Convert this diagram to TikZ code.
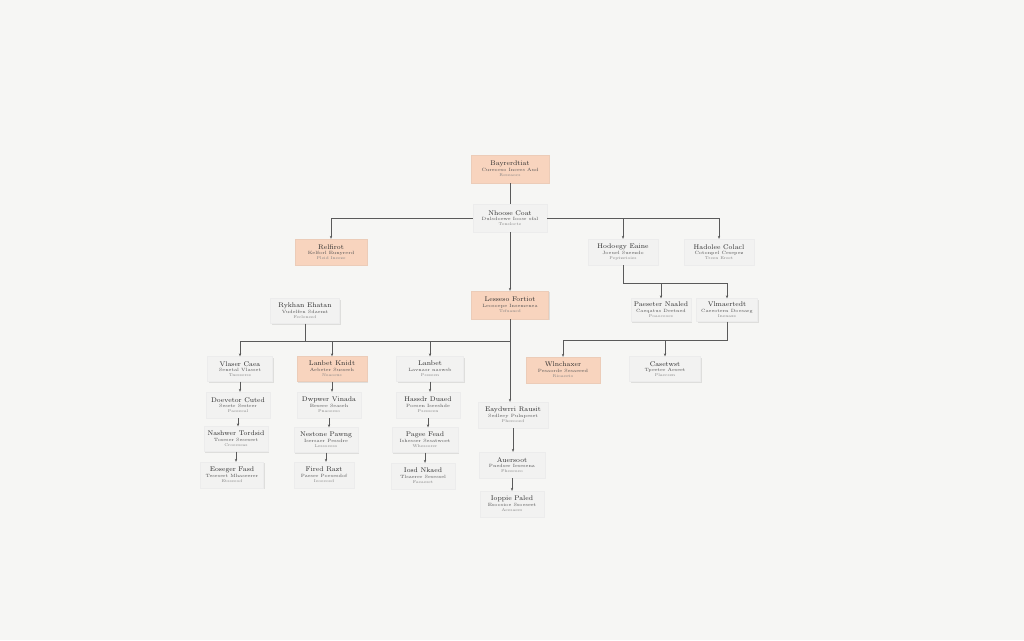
\documentclass[tikz,border=0pt]{standalone}
\usetikzlibrary{shadows,arrows.meta}
\definecolor{bg}{HTML}{F6F6F4}
\definecolor{peach}{HTML}{F8D4BE}
\definecolor{boxg}{HTML}{F2F2F1}
\definecolor{ln}{HTML}{5A5A5A}
\definecolor{ta}{HTML}{2A2A2A}
\definecolor{tb}{HTML}{505050}
\definecolor{tc}{HTML}{808080}
\newcommand{\boxtext}[3]{{\fontsize{6.8}{6.5}\selectfont\color{ta}#1}\\[0.3pt]{\color{tb}#2}\\{\fontsize{4}{5}\selectfont\color{tc}#3}}
\tikzset{
  bx/.style={rectangle, minimum width=66pt, minimum height=25pt, inner sep=1pt, align=center, font=\fontsize{4.6}{5.2}\selectfont, fill=boxg, draw=white!85!gray, line width=0.3pt, drop shadow={opacity=0.2, shadow xshift=1pt, shadow yshift=-1.3pt}},
  pbx/.style={bx, fill=peach, draw=peach!90!gray},
  ln/.style={draw=ln, line width=0.8pt},
  conn/.style={ln, -{Stealth[length=3pt,width=2.4pt]}}
}
\begin{document}
\begin{tikzpicture}[x=1pt,y=-1pt]
\fill[bg] (0,0) rectangle (1024,640);
\useasboundingbox (0,0) rectangle (1024,640);

\node[pbx, minimum width=78pt, minimum height=28pt] (n1) at (510,169) {\boxtext{Bayrerdtiat}{Cureoeso Incers Aud}{Reseaocs}};
\node[bx, minimum width=74pt, minimum height=28pt] (n2) at (510,218) {\boxtext{Nhoose Coat}{Dulsdoewe Ioosr sfal}{Tenslocte}};
\node[pbx, minimum width=72pt, minimum height=26pt] (n3) at (331,252) {\boxtext{Relfirot}{Kelforl Eunyrerd}{Pleid Ineeze}};
\node[bx, minimum width=70pt, minimum height=26pt] (n4) at (623,252) {\boxtext{Hodoegy Eaine}{Joeuel Sueezdo}{Peptzetoies}};
\node[bx, minimum width=70pt, minimum height=26pt] (n5) at (719,252) {\boxtext{Hadolee Colacl}{Cotonpel Cesepez}{Treen Ereet}};
\node[bx, minimum width=69pt] (n6) at (305,311) {\boxtext{Rykhan Ehatan}{Vudelfen Sdaemt}{Fecleneed}};
\node[pbx, minimum width=77pt, minimum height=28pt] (n7) at (510,305) {\boxtext{Lesseso Fortiot}{Leosoepe Insemenea}{Tefuaned}};
\node[bx, minimum width=60pt, minimum height=23pt] (n8) at (661,310) {\boxtext{Paeseter Naaled}{Caeqatus Deetned}{Poaoceoes}};
\node[bx, minimum width=61pt, minimum height=23pt] (n9) at (727,310) {\boxtext{Vlmaertedt}{Caeeotern Doesarg}{Inenaxs}};

\node[bx, minimum width=65pt] (n10) at (240,369) {\boxtext{Vlaser Caea}{Senetal Vlasset}{Tnesserss}};
\node[pbx, minimum width=70pt] (n11) at (332,369) {\boxtext{Lanbet Knidt}{Aebeter Susserh}{Noaoeus}};
\node[bx, minimum width=67pt] (n12) at (430,369) {\boxtext{Lanbet}{Lavnasr naswsb}{Pssseen}};
\node[pbx, minimum width=74pt, minimum height=26pt] (n13) at (563,370) {\boxtext{Wlnchaxer}{Pesaorde Sesaeeed}{Rioaeeto}};
\node[bx, minimum width=71pt] (n14) at (665,369) {\boxtext{Casetwst}{Tpeeter Aeseet}{Plaecsen}};

\node[bx, minimum width=64pt, minimum height=26pt] (n15) at (238,405) {\boxtext{Doevetor Cuted}{Sesetr Sestrer}{Paoseeal}};
\node[bx, minimum width=64pt, minimum height=26pt] (n16) at (329,405) {\boxtext{Dwpwer Vinada}{Beseee Seaseh}{Pnaoeeso}};
\node[bx, minimum width=64pt, minimum height=26pt] (n17) at (428,405) {\boxtext{Hassdr Duaed}{Poesen Iseeshde}{Psesseen}};
\node[bx, minimum width=70pt, minimum height=26pt] (n18) at (513,415) {\boxtext{Eaydwrri Rausit}{Sedleey Pulnpeset}{Pheeooed}};

\node[bx, minimum width=64pt] (n19) at (236,439) {\boxtext{Nashwer Tordsid}{Toseser Sesesert}{Croeeseas}};
\node[bx, minimum width=64pt] (n20) at (326,440) {\boxtext{Nestone Pawng}{Isersaer Pessdre}{Lessoeeso}};
\node[bx, minimum width=66pt] (n21) at (425,440) {\boxtext{Pagee Fead}{Ishesser Sesatwoet}{Whessorer}};
\node[bx, minimum width=66pt, minimum height=26pt] (n22) at (512,465) {\boxtext{Auersoot}{Pnedser Iesesena}{Fheeeoeo}};

\node[bx, minimum width=63pt, minimum height=26pt] (n23) at (232,475) {\boxtext{Eoseger Fasd}{Tesesert Mhaseerer}{Etsseeod}};
\node[bx, minimum width=60pt, minimum height=26pt] (n24) at (324,475) {\boxtext{Fired Razt}{Paeser Poesesdof}{Ieoeeosd}};
\node[bx, minimum width=64pt, minimum height=26pt] (n25) at (423,476) {\boxtext{Iosd Nkaed}{Tlsaerer Sesessel}{Faeaeset}};
\node[bx, minimum width=64pt, minimum height=26pt] (n26) at (512,504) {\boxtext{Ioppie Paled}{Esoosioe Ssoeseet}{Aeesaees}};

\coordinate (h1) at (510,341);
\coordinate (h2) at (623,283);
\coordinate (h3) at (727,340);

% top
\draw[ln] (n1) -- (n2);
\draw[conn] (n2.west) -| (n3.north);
\draw[conn] (n2.east) -| (n5.north);
\draw[conn] (n4.north |- n2.east) -- (n4.north);
\draw[conn] (n2) -- (n7);
\draw[conn] (n7.south) -- (n7.south |- n18.north);
% left bus
\draw[ln] (n10.north |- h1) -- (h1);
\draw[ln] (n6.south) -- (n6.south |- h1);
\draw[conn] (n10.north |- h1) -- (n10.north);
\draw[conn] (n11.north |- h1) -- (n11.north);
\draw[conn] (n12.north |- h1) -- (n12.north);
% right
\draw[ln] (n4.south) -- (h2) -- (n9.north |- h2);
\draw[conn] (n8.north |- h2) -- (n8.north);
\draw[conn] (n9.north |- h2) -- (n9.north);
\draw[ln] (n9.south) -- (h3) -- (n13.north |- h3);
\draw[conn] (n13.north |- h3) -- (n13.north);
\draw[conn] (n14.north |- h3) -- (n14.north);
% columns
\draw[conn] (n10.south) -- (n10.south |- n15.north);
\draw[conn] (n15.south) -- (n15.south |- n19.north);
\draw[conn] (n19.south) -- (n19.south |- n23.north);
\draw[conn] (n11.south) -- (n11.south |- n16.north);
\draw[conn] (n16.south) -- (n16.south |- n20.north);
\draw[conn] (n20.south) -- (n20.south |- n24.north);
\draw[conn] (n12.south) -- (n12.south |- n17.north);
\draw[conn] (n17.south) -- (n17.south |- n21.north);
\draw[conn] (n21.south) -- (n21.south |- n25.north);
\draw[conn] (n18.south) -- (n18.south |- n22.north);
\draw[conn] (n22.south) -- (n22.south |- n26.north);
\end{tikzpicture}
\end{document}
